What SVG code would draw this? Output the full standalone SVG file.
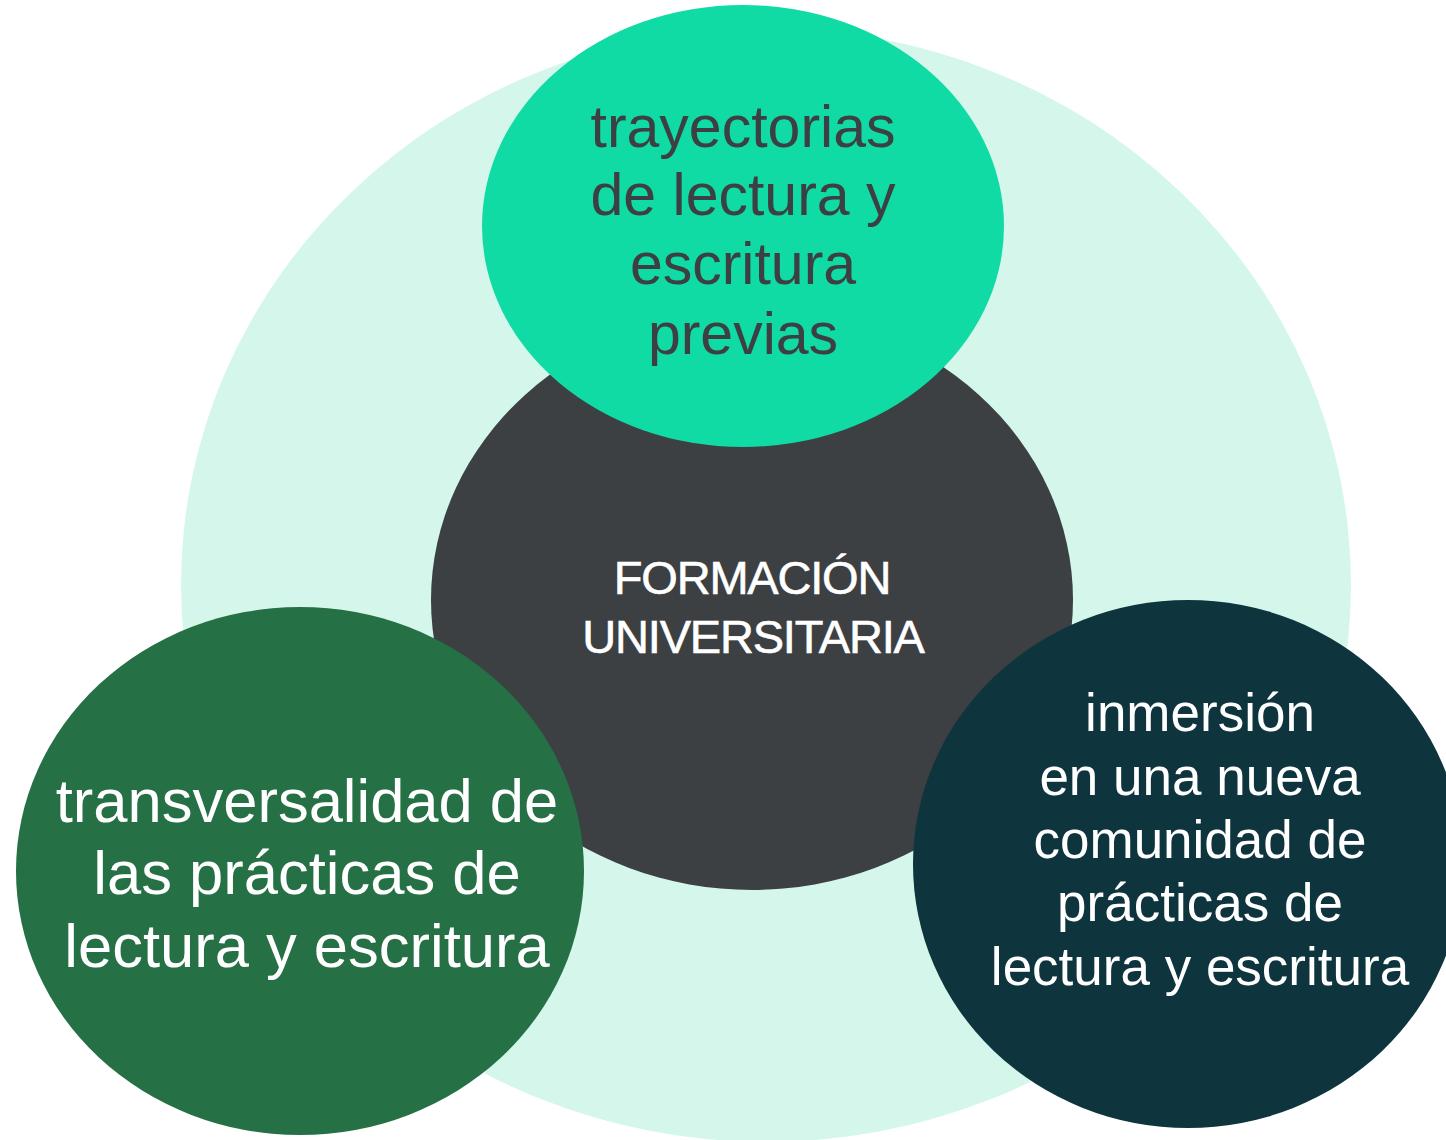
<svg xmlns="http://www.w3.org/2000/svg" width="1446" height="1140" viewBox="0 0 1446 1140">
<style>
text{font-family:"Liberation Sans",Arial,sans-serif;text-anchor:middle}
.top{fill:#3c4043;font-size:59px}
.ctr{fill:#ffffff;font-size:47px;letter-spacing:-1.2px;stroke:#ffffff;stroke-width:0.6px}
.lft{fill:#ffffff;font-size:61.5px}
.rgt{fill:#ffffff;font-size:53px}
</style>
<rect width="1446" height="1140" fill="#ffffff"/>
<g id="background"><ellipse cx="766" cy="585" rx="585" ry="557" fill="#d5f7eb"/></g>
<g id="connectors"></g>
<g id="center">
<ellipse cx="752" cy="600" rx="321" ry="290" fill="#3c4043"/>
<text class="ctr" x="752" y="594">FORMACIÓN</text>
<text class="ctr" x="753" y="653">UNIVERSITARIA</text>
</g>
<g id="top">
<ellipse cx="743" cy="226" rx="261" ry="221" fill="#10dba4"/>
<text class="top" x="743" y="147">trayectorias</text>
<text class="top" x="743" y="215">de lectura y</text>
<text class="top" x="743" y="284">escritura</text>
<text class="top" x="743" y="354">previas</text>
</g>
<g id="left">
<ellipse cx="300" cy="871" rx="284" ry="264" fill="#257045"/>
<text class="lft" x="307" y="822">transversalidad de</text>
<text class="lft" x="307" y="894">las prácticas de</text>
<text class="lft" x="307" y="967">lectura y escritura</text>
</g>
<g id="right">
<ellipse cx="1188" cy="864" rx="275" ry="264" fill="#0e343e"/>
<text class="rgt" x="1200" y="731">inmersión</text>
<text class="rgt" x="1200" y="795">en una nueva</text>
<text class="rgt" x="1200" y="858">comunidad de</text>
<text class="rgt" x="1200" y="921">prácticas de</text>
<text class="rgt" x="1200" y="985">lectura y escritura</text>
</g>
</svg>
